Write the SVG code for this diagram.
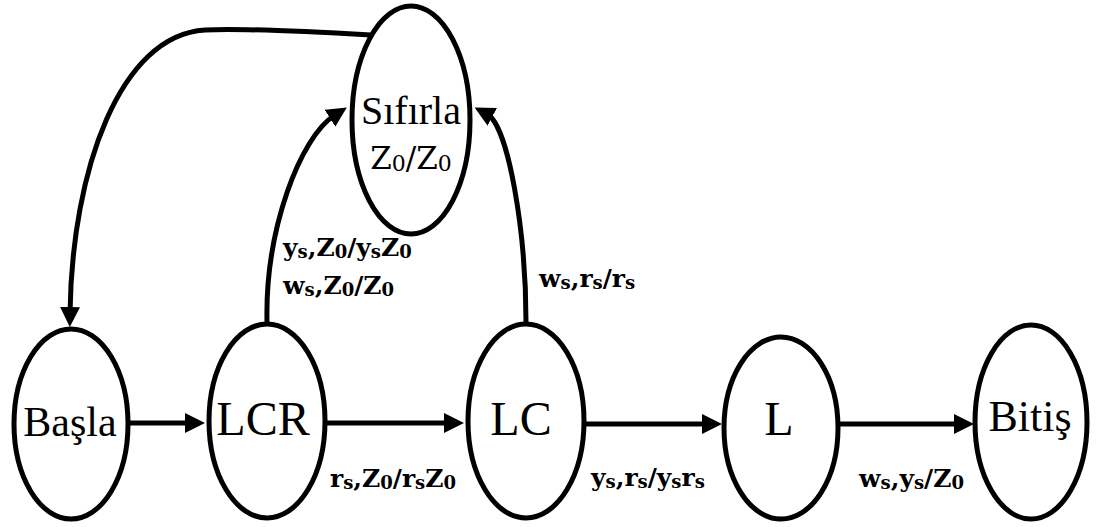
<svg xmlns="http://www.w3.org/2000/svg" width="1100" height="527" viewBox="0 0 1100 527">
<style>
.node ellipse{fill:#fff;stroke:#000;stroke-width:5}
.nt{font-family:'Liberation Serif','Times New Roman',Times,'DejaVu Serif',serif;text-anchor:middle;fill:#000}
.lbl{font-family:'DejaVu Serif',serif;font-weight:bold;font-size:25px;fill:#000}
.sub{font-size:18px}
.conn path{fill:none;stroke:#000;stroke-width:5}
</style>
<defs>
<marker id="ah" markerUnits="userSpaceOnUse" markerWidth="22" markerHeight="22" refX="6" refY="10" orient="auto">
<path d="M0,0 L20,10 L0,20 z" fill="#000"/>
</marker>
</defs>
<rect width="1100" height="527" fill="#fff"/>
<g id="connectors" class="conn">
<path d="M371,35 C300,31 240,28 205,30 C120,35 72,170 70,313" marker-end="url(#ah)"/>
<path d="M267,322 C265,230 300,137 335,115" marker-end="url(#ah)"/>
<path d="M526,322 C526,230 508,125 487,114" marker-end="url(#ah)"/>
<path d="M130,423 H191" marker-end="url(#ah)"/>
<path d="M327,423 H450" marker-end="url(#ah)"/>
<path d="M585,424 H708" marker-end="url(#ah)"/>
<path d="M839,424 H960" marker-end="url(#ah)"/>
</g>
<g id="node-basla" class="node">
<ellipse cx="71" cy="424" rx="57" ry="95"/>
<text class="nt" x="70" y="436" font-size="42">Başla</text>
</g>
<g id="node-lcr" class="node">
<ellipse cx="267" cy="421" rx="58" ry="97"/>
<text class="nt" x="263" y="435" font-size="48">LCR</text>
</g>
<g id="node-lc" class="node">
<ellipse cx="526" cy="421" rx="58" ry="97"/>
<text class="nt" x="521" y="435" font-size="48">LC</text>
</g>
<g id="node-l" class="node">
<ellipse cx="781" cy="428" rx="57" ry="91"/>
<text class="nt" x="779" y="435" font-size="48">L</text>
</g>
<g id="node-bitis" class="node">
<ellipse cx="1031" cy="422" rx="56" ry="97"/>
<text class="nt" x="1030" y="431" font-size="44">Bitiş</text>
</g>
<g id="node-sifirla" class="node">
<ellipse cx="411" cy="120" rx="59" ry="114"/>
<text class="nt" x="411" y="124" font-size="40">Sıfırla</text>
<text x="411" y="169" text-anchor="middle" font-family="'DejaVu Serif',serif" font-size="31">Z<tspan font-size="22" dy="2">0</tspan><tspan dy="-2">/Z</tspan><tspan font-size="22" dy="2">0</tspan></text>
</g>
<g id="labels">
<text class="lbl" x="283" y="256">y<tspan class="sub" dy="2">s</tspan><tspan dy="-2">,Z</tspan><tspan class="sub" dy="2">0</tspan><tspan dy="-2">/y</tspan><tspan class="sub" dy="2">s</tspan><tspan dy="-2">Z</tspan><tspan class="sub" dy="2">0</tspan></text>
<text class="lbl" x="283" y="294">w<tspan class="sub" dy="2">s</tspan><tspan dy="-2">,Z</tspan><tspan class="sub" dy="2">0</tspan><tspan dy="-2">/Z</tspan><tspan class="sub" dy="2">0</tspan></text>
<text class="lbl" x="539" y="287">w<tspan class="sub" dy="2">s</tspan><tspan dy="-2">,r</tspan><tspan class="sub" dy="2">s</tspan><tspan dy="-2">/r</tspan><tspan class="sub" dy="2">s</tspan></text>
<text class="lbl" x="330" y="487">r<tspan class="sub" dy="2">s</tspan><tspan dy="-2">,Z</tspan><tspan class="sub" dy="2">0</tspan><tspan dy="-2">/r</tspan><tspan class="sub" dy="2">s</tspan><tspan dy="-2">Z</tspan><tspan class="sub" dy="2">0</tspan></text>
<text class="lbl" x="591" y="486">y<tspan class="sub" dy="2">s</tspan><tspan dy="-2">,r</tspan><tspan class="sub" dy="2">s</tspan><tspan dy="-2">/y</tspan><tspan class="sub" dy="2">s</tspan><tspan dy="-2">r</tspan><tspan class="sub" dy="2">s</tspan></text>
<text class="lbl" x="859" y="487">w<tspan class="sub" dy="2">s</tspan><tspan dy="-2">,y</tspan><tspan class="sub" dy="2">s</tspan><tspan dy="-2">/Z</tspan><tspan class="sub" dy="2">0</tspan></text>
</g>
</svg>
